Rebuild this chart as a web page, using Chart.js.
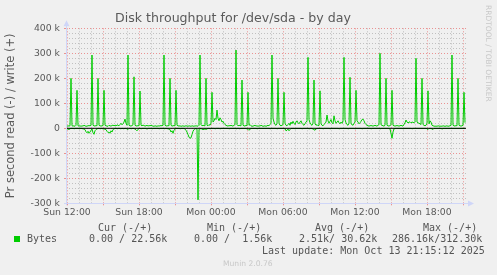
<!DOCTYPE html>
<html>
<head>
<meta charset="utf-8">
<script src="https://cdn.jsdelivr.net/npm/chart.js@4.4.1/dist/chart.umd.min.js"></script>
<style>
  body { margin: 0; background: #f0f0f0; }
  #wrap { position: relative; width: 497px; height: 275px; overflow: hidden; }
  #chart { position: absolute; left: 0; top: 0; }
  .lg { position: absolute; font-family: 'DejaVu Sans Mono', monospace; font-size: 10px; line-height: 12px; color: #555; white-space: pre; }
  .sw { position: absolute; left: 14px; top: 236px; width: 6px; height: 6px; background: #00cc00; }
  .munin { position: absolute; left: 223px; top: 259px; font-family: 'DejaVu Sans', sans-serif; font-size: 7.6px; line-height: 10px; color: #c8c8c8; white-space: pre; }
  .rrd { position: absolute; left: 484px; top: 5px; writing-mode: vertical-rl; font-family: 'DejaVu Sans', sans-serif; font-size: 7.5px; line-height: 8px; color: #c8c8c8; white-space: pre; }
</style>
</head>
<body>
<div id="wrap">
  <canvas id="chart" width="497" height="275"></canvas>
  <div class="lg" style="left:98px;top:222px">Cur (-/+)</div>
  <div class="lg" style="left:207px;top:222px">Min (-/+)</div>
  <div class="lg" style="left:315px;top:222px">Avg (-/+)</div>
  <div class="lg" style="left:423px;top:222px">Max (-/+)</div>
  <div class="sw"></div>
  <div class="lg" style="left:27px;top:233px">Bytes</div>
  <div class="lg" style="left:89px;top:233px">0.00 / 22.56k</div>
  <div class="lg" style="left:194px;top:233px">0.00 /  1.56k</div>
  <div class="lg" style="left:299px;top:233px">2.51k/ 30.62k</div>
  <div class="lg" style="left:392px;top:233px">286.16k/312.30k</div>
  <div class="lg" style="left:262px;top:245px">Last update: Mon Oct 13 21:15:12 2025</div>
  <div class="munin">Munin 2.0.76</div>
  <div class="rrd">RRDTOOL / TOBI OETIKER</div>
</div>
<script>
// 5 minute samples, Sun 11:55 -> Mon 21:15 (minutes since Sun 00:00)
const startMinute = 715;
const stepMinutes = 5;

// write (+), kB/s
const writeK = [
  5, 8, 10, 9, 10, 200, 10, 9, 10, 8, 12, 152, 10, 9, 10, 8, 10, 9, 12, 10,
  8, 9, 10, 11, 10, 12, 293, 12, 10, 9, 11, 10, 200, 12, 10, 9, 10, 11, 152, 12,
  10, 9, 8, 12, 10, 9, 11, 13, 10, 12, 9, 14, 12, 10, 15, 20, 14, 18, 25, 37,
  20, 12, 293, 12, 10, 9, 11, 14, 206, 12, 10, 9, 11, 10, 149, 12, 10, 13, 11, 9,
  10, 12, 9, 11, 10, 12, 10, 9, 8, 10, 9, 8, 10, 9, 10, 11, 10, 12, 293, 12,
  10, 9, 11, 10, 200, 12, 9, 10, 11, 10, 152, 12, 10, 9, 10, 8, 9, 10, 8, 9,
  10, 9, 8, 10, 9, 8, 10, 9, 8, 10, 9, 10, 8, 12, 293, 14, 10, 12, 11, 10,
  200, 12, 10, 15, 12, 20, 144, 25, 30, 40, 35, 73, 40, 30, 42, 35, 25, 28, 20, 15,
  12, 10, 9, 11, 10, 12, 10, 9, 12, 15, 313, 14, 10, 12, 11, 10, 193, 12, 10, 9,
  12, 10, 144, 12, 15, 10, 8, 9, 10, 12, 9, 10, 8, 10, 9, 12, 10, 8, 9, 10,
  8, 10, 12, 10, 15, 20, 293, 40, 25, 15, 12, 18, 200, 20, 12, 10, 12, 15, 144, 20,
  12, 10, 15, 20, 12, 25, 18, 28, 20, 15, 25, 30, 22, 18, 25, 30, 20, 15, 12, 18,
  25, 30, 284, 35, 22, 15, 12, 20, 193, 18, 12, 15, 10, 12, 150, 18, 12, 10, 15, 20,
  25, 53, 30, 20, 28, 35, 22, 18, 50, 30, 20, 25, 30, 22, 18, 25, 20, 30, 284, 35,
  22, 15, 12, 20, 204, 18, 15, 12, 20, 25, 152, 30, 25, 18, 22, 28, 35, 37, 30, 20,
  15, 12, 10, 9, 10, 11, 10, 9, 10, 12, 10, 9, 12, 15, 300, 14, 12, 10, 9, 12,
  200, 12, 10, 9, 11, 14, 152, 12, 10, 9, 10, 11, 10, 9, 10, 12, 10, 9, 15, 22,
  33, 25, 22, 24, 26, 22, 25, 24, 22, 26, 280, 25, 22, 20, 18, 15, 200, 15, 12, 10,
  12, 20, 150, 18, 30, 25, 12, 10, 9, 8, 9, 8, 10, 9, 8, 9, 8, 10, 9, 8,
  9, 10, 8, 9, 10, 12, 293, 12, 10, 9, 11, 10, 200, 12, 10, 9, 10, 12, 144, 22.56
];

// read (-), kB/s, drawn below zero
const readK = [
  0, 2, 3, 5, 2, 0, 1, 0, 2, 1, 0, 1, 0, 2, 1, 0, 1, 2, 3, 5,
  14, 18, 12, 20, 15, 8, 2, 18, 24, 10, 5, 2, 1, 0, 2, 1, 0, 3, 2, 4,
  5, 12, 17, 15, 20, 10, 15, 5, 2, 1, 0, 2, 1, 0, 1, 2, 0, 1, 2, 0,
  1, 2, 5, 1, 0, 2, 1, 0, 1, 3, 6, 10, 4, 1, 0, 2, 1, 0, 1, 0,
  1, 3, 1, 0, 1, 0, 2, 1, 0, 1, 0, 1, 0, 2, 1, 0, 1, 0, 2, 1,
  0, 1, 2, 3, 5, 15, 10, 20, 8, 3, 1, 0, 1, 0, 2, 1, 0, 1, 0, 3,
  8, 15, 25, 35, 40, 38, 25, 12, 5, 2, 1, 3, 286.16, 4, 2, 1, 5, 3, 6, 2,
  5, 2, 1, 0, 2, 1, 0, 1, 0, 2, 1, 0, 1, 0, 2, 1, 0, 1, 0, 1,
  0, 1, 0, 2, 1, 0, 1, 0, 1, 0, 2, 1, 0, 1, 2, 0, 1, 0, 1, 0,
  1, 2, 4, 8, 3, 1, 0, 1, 0, 1, 0, 2, 1, 0, 1, 0, 1, 0, 1, 0,
  1, 0, 1, 0, 2, 1, 0, 1, 0, 1, 0, 2, 1, 0, 1, 0, 1, 0, 2, 1,
  10, 8, 3, 10, 5, 1, 0, 1, 0, 2, 1, 0, 1, 0, 1, 0, 2, 1, 0, 1,
  0, 1, 0, 2, 1, 0, 1, 3, 5, 8, 2, 1, 0, 1, 0, 1, 0, 2, 1, 0,
  1, 0, 1, 0, 2, 1, 0, 1, 0, 1, 0, 1, 0, 2, 1, 0, 1, 0, 1, 0,
  1, 0, 2, 1, 0, 1, 0, 1, 0, 2, 1, 0, 1, 0, 1, 0, 2, 1, 0, 1,
  0, 1, 0, 1, 0, 2, 1, 0, 1, 0, 1, 0, 1, 0, 2, 1, 0, 1, 0, 1,
  0, 1, 0, 1, 2, 20, 40, 15, 2, 1, 0, 1, 0, 1, 0, 1, 0, 2, 1, 0,
  1, 0, 1, 0, 1, 0, 2, 1, 0, 1, 0, 1, 0, 1, 0, 1, 0, 1, 0, 1,
  0, 2, 5, 1, 0, 1, 2, 5, 1, 0, 1, 0, 1, 0, 1, 0, 3, 1, 0, 1,
  0, 1, 0, 1, 0, 1, 0, 1, 0, 1, 0, 1, 0, 1, 0, 1, 0, 1, 0, 0
];

const xTickMinutes = [720, 1080, 1440, 1800, 2160, 2520];
const xTickLabels = ['Sun 12:00', 'Sun 18:00', 'Mon 00:00', 'Mon 06:00', 'Mon 12:00', 'Mon 18:00'];
const yTickValues = [400, 300, 200, 100, 0, -100, -200, -300];
const yTickLabels = ['400 k', '300 k', '200 k', '100 k', '0', '-100 k', '-200 k', '-300 k'];

const GREEN = '#00cc00';
const GRID = 'rgba(143,143,143,0.5)';
const MGRID = 'rgba(230,70,70,0.55)';
const AXIS = '#cfd6f8';
const FONT = "'DejaVu Sans', sans-serif";
const TEXT = '#5a5a5a';

const toPoints = (arr, sign) => arr.map((v, i) => ({ x: startMinute + i * stepMinutes, y: sign * v }));

// hour grid, red every 3 hours
const hourTicks = [];
for (let m = 720; m <= 2700; m += 60) hourTicks.push({ value: m });

const muninAxes = {
  id: 'muninAxes',
  afterDatasetsDraw(chart) {
    const { ctx, chartArea: a, scales: { y } } = chart;
    const y0 = y.getPixelForValue(0);
    ctx.save();
    ctx.strokeStyle = '#000';
    ctx.lineWidth = 1;
    ctx.beginPath();
    ctx.moveTo(a.left, y0);
    ctx.lineTo(a.right, y0);
    ctx.stroke();

    // axes with arrows
    ctx.strokeStyle = AXIS;
    ctx.fillStyle = AXIS;
    const lx = Math.round(a.left) + 0.5;
    const by = Math.round(a.bottom) + 0.5;
    ctx.beginPath();
    ctx.moveTo(lx, a.bottom + 2);
    ctx.lineTo(lx, a.top - 3);
    ctx.moveTo(a.left - 2, by);
    ctx.lineTo(a.right + 3, by);
    ctx.stroke();
    ctx.beginPath();
    ctx.moveTo(lx - 3, a.top - 2);
    ctx.lineTo(lx + 3, a.top - 2);
    ctx.lineTo(lx, a.top - 8);
    ctx.closePath();
    ctx.fill();
    ctx.beginPath();
    ctx.moveTo(a.right + 2, by - 3);
    ctx.lineTo(a.right + 2, by + 3);
    ctx.lineTo(a.right + 8, by);
    ctx.closePath();
    ctx.fill();
    ctx.restore();
  }
};

new Chart(document.getElementById('chart'), {
  type: 'line',
  data: {
    datasets: [
      { label: 'write', data: toPoints(writeK, 1), borderColor: GREEN, borderWidth: 1, pointRadius: 0, tension: 0, fill: false },
      { label: 'read', data: toPoints(readK, -1), borderColor: GREEN, borderWidth: 1, pointRadius: 0, tension: 0, fill: false }
    ]
  },
  options: {
    responsive: false,
    animation: false,
    devicePixelRatio: 1,
    layout: { padding: { left: 0, right: 31, top: 0, bottom: 51.7 } },
    plugins: {
      legend: { display: false },
      tooltip: { enabled: false },
      title: {
        display: true,
        text: 'Disk throughput for /dev/sda - by day',
        color: TEXT,
        font: { family: FONT, size: 12.6, weight: 'normal' },
        padding: { top: 11.5, bottom: 1.7 }
      }
    },
    scales: {
      x: {
        type: 'linear',
        min: startMinute,
        max: startMinute + 400 * stepMinutes,
        afterBuildTicks: (scale) => { scale.ticks = hourTicks.map(t => ({ value: t.value })); },
        afterFit: (scale) => { scale.height = 20; },
        border: { display: false, dash: [1, 2] },
        grid: {
          color: (c) => (c.tick && c.tick.value % 180 === 0) ? MGRID : GRID,
          lineWidth: 1,
          drawTicks: true,
          tickLength: 2,
          tickColor: (c) => (c.tick && c.tick.value % 180 === 0) ? MGRID : 'rgba(0,0,0,0)'
        },
        ticks: {
          autoSkip: false,
          maxRotation: 0,
          minRotation: 0,
          padding: 2,
          color: TEXT,
          font: { family: FONT, size: 9.3 },
          callback: (v) => {
            const k = xTickMinutes.indexOf(v);
            return k >= 0 ? xTickLabels[k] : '';
          }
        }
      },
      y: {
        min: -300,
        max: 400,
        afterFit: (scale) => { scale.width = 66; },
        border: { display: false, dash: [1, 2] },
        grid: {
          color: (c) => (c.tick && c.tick.value % 100 === 0) ? MGRID : GRID,
          lineWidth: 1,
          drawTicks: true,
          tickLength: 2,
          tickColor: (c) => (c.tick && c.tick.value % 100 === 0) ? MGRID : 'rgba(0,0,0,0)'
        },
        ticks: {
          stepSize: 20,
          autoSkip: false,
          padding: 4,
          color: TEXT,
          font: { family: FONT, size: 9.3 },
          callback: (v) => {
            const k = yTickValues.indexOf(v);
            return k >= 0 ? yTickLabels[k] : '';
          }
        },
        title: {
          display: true,
          text: 'Pr second read (-) / write (+)',
          color: TEXT,
          font: { family: FONT, size: 11.5 },
          padding: { top: 4.5, bottom: 0 }
        }
      }
    }
  },
  plugins: [muninAxes]
});
</script>
</body>
</html>
